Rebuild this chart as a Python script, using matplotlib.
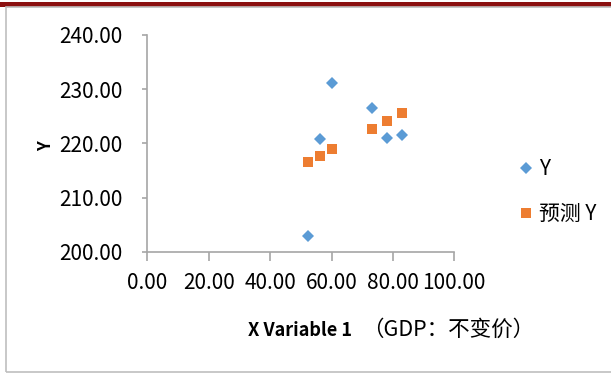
import matplotlib
matplotlib.use("Agg")
import matplotlib.pyplot as plt
from matplotlib.patches import Rectangle
from matplotlib.ticker import FormatStrFormatter

# data
gdp = [52.5, 56.2, 60.3, 73.2, 78.1, 83.1]
y_actual = [203.0, 220.8, 231.2, 226.6, 221.0, 221.6]
y_pred = [216.6, 217.7, 218.9, 222.6, 224.1, 225.6]
x_ticks = [0, 20, 40, 60, 80, 100]
y_ticks = [200, 210, 220, 230, 240]

# Noto Sans CJK's latin glyphs are narrow, close to the Calibri-like original
fam = ['Noto Sans CJK SC', 'DejaVu Sans']
blue = '#5B9BD5'
orange = '#ED7D31'
axis_gray = '#A6A6A6'

W, H = 611, 374
fig = plt.figure(figsize=(W / 100, H / 100), dpi=100)

# outer frame: dark red strip on top, thin gray chart border
fig.add_artist(Rectangle((0, 1 - 7 / H), 1, 5 / H, transform=fig.transFigure,
                         facecolor='#8B1010', edgecolor='none'))
fig.add_artist(Rectangle((6 / W, 2 / H), 1.0, 1 - 9 / H, transform=fig.transFigure,
                         facecolor='none', edgecolor='#BFBFBF', linewidth=1.2))

ax = fig.add_axes([147.3 / W, 122 / H, 307 / W, 217 / H])
ax.plot(gdp, y_actual, linestyle='none', marker='D', markersize=6.6,
        color=blue, markeredgewidth=0, label='Y', clip_on=False)
ax.plot(gdp, y_pred, linestyle='none', marker='s', markersize=7.8,
        color=orange, markeredgewidth=0, label='预测 Y', clip_on=False)

ax.set_xlim(0, 100)
ax.set_ylim(200, 240)
ax.set_xticks(x_ticks)
ax.set_yticks(y_ticks)
ax.xaxis.set_major_formatter(FormatStrFormatter('%.2f'))
ax.yaxis.set_major_formatter(FormatStrFormatter('%.2f'))
for lab in ax.get_xticklabels() + ax.get_yticklabels():
    lab.set_family(fam)
    lab.set_fontsize(15)
ax.spines['top'].set_visible(False)
ax.spines['right'].set_visible(False)
for s in ['left', 'bottom']:
    ax.spines[s].set_color(axis_gray)
    ax.spines[s].set_linewidth(1.2)
ax.tick_params(axis='x', length=6.5, width=1.2, color=axis_gray, pad=8, labelcolor='black')
ax.tick_params(axis='y', length=3.6, width=1.2, color=axis_gray, pad=14.5, labelcolor='black')

# axis titles
fig.text(46 / W, 1 - 146 / H, 'Y', rotation=90, ha='center', va='center',
         fontsize=12, fontweight='bold', family=fam)
fig.text(248 / W, 1 - 330 / H, 'X Variable 1', ha='left', va='center',
         fontsize=13, fontweight='bold', family=fam)
fig.text(362 / W, 1 - 330 / H, '（GDP：不变价）', ha='left', va='center',
         fontsize=15.5, family=fam)

leg = ax.legend(loc='upper left', bbox_to_anchor=(518 / W, 1 - 158 / H),
                bbox_transform=fig.transFigure, frameon=False,
                prop={'family': fam, 'size': 15}, handlelength=0.8,
                handletextpad=0.2, labelspacing=1.1, borderpad=0, borderaxespad=0)

fig.savefig('out.png', dpi=100)
